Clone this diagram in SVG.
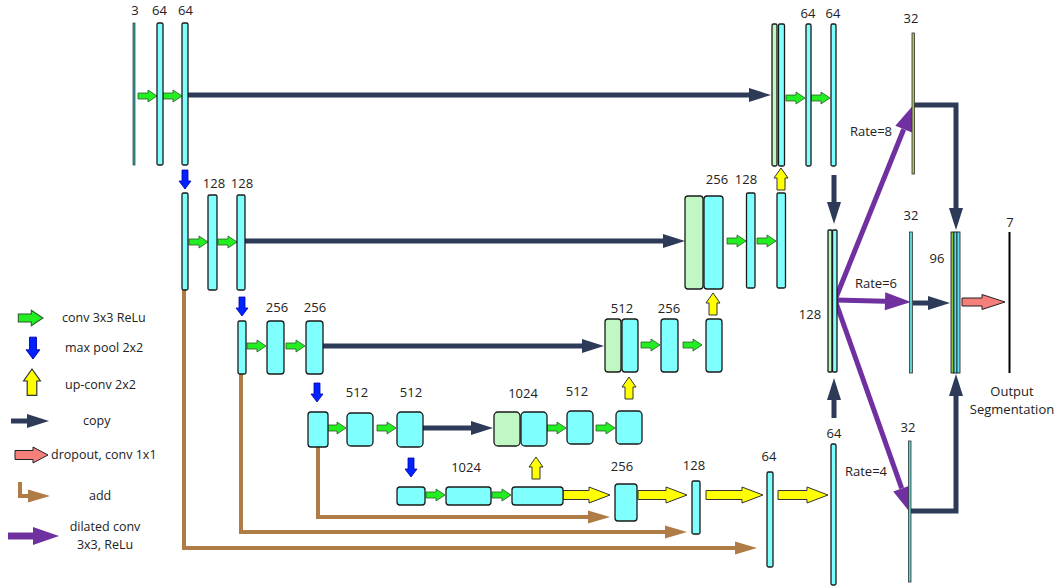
<svg xmlns="http://www.w3.org/2000/svg" width="1057" height="588" viewBox="0 0 1057 588">
<style>
.b{fill:#80ffff;stroke:#1a1a1a;stroke-width:1.3}
.g{fill:#c0f7c3;stroke:#1a1a1a;stroke-width:1.3}
.t{font-family:'Open Sans','Liberation Sans',sans-serif;font-size:13px;fill:#222;text-anchor:middle}
.l{font-family:'Open Sans','Liberation Sans',sans-serif;font-size:12.5px;fill:#222}
.nv{fill:none;stroke:#2d3a58;stroke-width:5}
.pu{fill:none;stroke:#7030a0;stroke-width:5}
.br{fill:none;stroke:#b07c46;stroke-width:4}
.ya{fill:#ffff00;stroke:#333;stroke-width:1}
.pk{fill:#f47f7b;stroke:#222;stroke-width:1}
</style>
<defs>
<path id="ga" d="M-19,-3 L-9,-3 L-9,-6 L0,0 L-9,6 L-9,3 L-19,3 Z" fill="#22ee22" stroke="#2a5a2a" stroke-width="0.8"/>
<path id="da" d="M-3,-19 L3,-19 L3,-8 L6,-8 L0,0 L-6,-8 L-3,-8 Z" fill="#0022ff" stroke="#0000aa" stroke-width="0.8"/>
<path id="ua" d="M0,0 L7,10 L4,10 L4,22 L-4,22 L-4,10 L-7,10 Z" class="ya"/>
<marker id="mn" markerUnits="userSpaceOnUse" markerWidth="22" markerHeight="14" refX="0" refY="7" orient="auto" overflow="visible"><path d="M0,0 L22,7 L0,14 Z" fill="#2d3a58"/></marker>
<marker id="mp" markerUnits="userSpaceOnUse" markerWidth="26" markerHeight="18" refX="0" refY="9" orient="auto" overflow="visible"><path d="M0,0 L26,9 L0,18 Z" fill="#7030a0"/></marker>
<marker id="mb" markerUnits="userSpaceOnUse" markerWidth="22" markerHeight="13" refX="0" refY="6.5" orient="auto" overflow="visible"><path d="M0,0 L22,6.5 L0,13 Z" fill="#b07c46"/></marker>
</defs>
<rect width="1057" height="588" fill="#ffffff"/>

<g id="connectors">
<path class="nv" d="M188,95 H749" marker-end="url(#mn)"/>
<path class="nv" d="M245,241 H663" marker-end="url(#mn)"/>
<path class="nv" d="M323,346 H582" marker-end="url(#mn)"/>
<path class="nv" d="M423,428 H471" marker-end="url(#mn)"/>
<path class="nv" d="M834,175 V202" marker-end="url(#mn)"/>
<path class="nv" d="M834,418 V400" marker-end="url(#mn)"/>
<path class="nv" d="M913,105 H956 V208" marker-end="url(#mn)"/>
<path class="nv" d="M910,511 H956 V396" marker-end="url(#mn)"/>
<path class="nv" d="M913,303 H928" marker-end="url(#mn)"/>
<path class="pu" d="M835,300 L903.7,129.2" marker-end="url(#mp)"/>
<path class="pu" d="M835,300 L885,301.3" marker-end="url(#mp)"/>
<path class="pu" d="M835,300 L901.7,488.4" marker-end="url(#mp)"/>
<path class="br" d="M184,290 V548 H735" marker-end="url(#mb)"/>
<path class="br" d="M241,374 V532 H665" marker-end="url(#mb)"/>
<path class="br" d="M318,447 V517 H588" marker-end="url(#mb)"/>
<use href="#ga" x="157" y="96"/><use href="#ga" x="182" y="96"/>
<use href="#ga" x="805" y="98"/><use href="#ga" x="830" y="98"/>
<use href="#ga" x="208" y="242"/><use href="#ga" x="237" y="242"/>
<use href="#ga" x="746" y="241"/><use href="#ga" x="776" y="241"/>
<use href="#ga" x="266" y="346"/><use href="#ga" x="305" y="346"/>
<use href="#ga" x="660" y="345"/><use href="#ga" x="702" y="345"/>
<use href="#ga" x="346" y="428"/><use href="#ga" x="396" y="428"/>
<use href="#ga" x="566" y="428"/><use href="#ga" x="615" y="428"/>
<use href="#ga" x="445" y="495"/><use href="#ga" x="511" y="495"/>
<use href="#da" x="185" y="189"/><use href="#da" x="242" y="316"/>
<use href="#da" x="317" y="402"/><use href="#da" x="411" y="477"/>
<use href="#ua" x="781" y="168"/><use href="#ua" x="713" y="293"/>
<use href="#ua" x="629" y="377"/><use href="#ua" x="536" y="457"/>
<path class="ya" d="M563,490.5 H589 V487 L610,495 L589,503 V499.5 H563 Z"/>
<path class="ya" d="M638,490.5 H666 V487 L687,495 L666,503 V499.5 H638 Z"/>
<path class="ya" d="M706,490.5 H742 V487 L763,495 L742,503 V499.5 H706 Z"/>
<path class="ya" d="M778,490.5 H807 V487 L828,495 L807,503 V499.5 H778 Z"/>
<path class="pk" d="M962,298 H982 V294.5 L1005,302 L982,309.5 V306 H962 Z"/>
</g>

<g id="enc1">
<rect x="133" y="23" width="2" height="142" fill="#3aa6a6" stroke="#1a3a3a" stroke-width="0.7"/>
<rect class="b" x="157" y="23" width="6" height="142" rx="1.5"/>
<rect class="b" x="182" y="23" width="6" height="142" rx="1.5"/>
<text class="t" x="135" y="15">3</text><text class="t" x="159.5" y="15">64</text><text class="t" x="185.5" y="15">64</text>
</g>
<g id="enc2">
<rect class="b" x="182" y="193" width="6" height="97" rx="1.5"/>
<rect class="b" x="208" y="195" width="9" height="95" rx="1.5"/>
<rect class="b" x="237" y="195" width="8" height="95" rx="1.5"/>
<text class="t" x="214" y="188">128</text><text class="t" x="242" y="188">128</text>
</g>
<g id="enc3">
<rect class="b" x="238" y="321" width="8" height="53" rx="1.5"/>
<rect class="b" x="267" y="321" width="17" height="53" rx="3"/>
<rect class="b" x="306" y="321" width="17" height="53" rx="3"/>
<text class="t" x="277" y="312">256</text><text class="t" x="315" y="312">256</text>
</g>
<g id="enc4">
<rect class="b" x="308" y="412" width="20" height="35" rx="3"/>
<rect class="b" x="347" y="413" width="26" height="33" rx="4"/>
<rect class="b" x="397" y="412" width="26" height="35" rx="4"/>
<text class="t" x="357" y="397">512</text><text class="t" x="411" y="397">512</text>
</g>
<g id="bottleneck">
<rect class="b" x="397" y="487" width="28" height="18" rx="3"/>
<rect class="b" x="446" y="487" width="45" height="18" rx="3"/>
<rect class="b" x="512" y="487" width="51" height="18" rx="3"/>
<text class="t" x="466" y="472">1024</text>
</g>
<g id="dec4">
<rect class="g" x="494" y="412" width="26" height="34" rx="4"/>
<rect class="b" x="521" y="412" width="26" height="34" rx="4"/>
<rect class="b" x="567" y="411" width="26" height="33" rx="4"/>
<rect class="b" x="616" y="411" width="26" height="33" rx="4"/>
<text class="t" x="523" y="398">1024</text><text class="t" x="577" y="396">512</text>
</g>
<g id="dec3">
<rect class="g" x="605" y="319" width="16" height="53" rx="3"/>
<rect class="b" x="622" y="319" width="16" height="53" rx="3"/>
<rect class="b" x="661" y="319" width="17" height="53" rx="3"/>
<rect class="b" x="706" y="319" width="16" height="53" rx="3"/>
<text class="t" x="622" y="313">512</text><text class="t" x="669" y="313">256</text>
</g>
<g id="dec2">
<rect class="g" x="685" y="196" width="18" height="93" rx="3"/>
<rect class="b" x="704" y="196" width="19" height="93" rx="3"/>
<rect class="b" x="746.5" y="193" width="8.5" height="95" rx="1.5"/>
<rect class="b" x="777" y="193" width="8.5" height="95" rx="1.5"/>
<text class="t" x="717" y="184">256</text><text class="t" x="746" y="184">128</text>
</g>
<g id="dec1">
<rect class="g" x="772" y="24" width="5" height="142" rx="1.5"/>
<rect class="b" x="778.5" y="24" width="6" height="142" rx="1.5"/>
<rect class="b" x="806" y="24" width="5" height="142" rx="1.5"/>
<rect class="b" x="831" y="24" width="5" height="142" rx="1.5"/>
<text class="t" x="808" y="18">64</text><text class="t" x="833" y="18">64</text>
</g>
<g id="up_path">
<rect class="b" x="615" y="484" width="22" height="37" rx="3"/>
<rect class="b" x="692" y="481" width="8" height="53" rx="1.5"/>
<rect class="b" x="767" y="472" width="6" height="95" rx="1.5"/>
<rect class="b" x="831" y="444" width="5" height="141" rx="1.5"/>
<text class="t" x="622" y="471">256</text><text class="t" x="694" y="470">128</text>
<text class="t" x="769" y="461">64</text><text class="t" x="834" y="438">64</text>
</g>
<g id="concat128">
<rect class="g" x="828" y="230" width="4" height="142" rx="1"/>
<rect class="b" x="832.5" y="230" width="4.5" height="142" rx="1"/>
<text class="t" x="810" y="319">128</text>
</g>
<g id="rate8">
<rect x="912" y="33" width="2.5" height="141" fill="#a8c060" stroke="#333" stroke-width="0.8"/>
<text class="t" x="911" y="23">32</text>
<text class="t" x="871" y="136">Rate=8</text>
</g>
<g id="rate6">
<rect x="909.5" y="232" width="3" height="141" fill="#60d0d0" stroke="#333" stroke-width="0.8"/>
<text class="t" x="911" y="220">32</text>
<text class="t" x="876" y="288">Rate=6</text>
</g>
<g id="rate4">
<rect x="908.5" y="441" width="2.5" height="141" fill="#60d0d0" stroke="#333" stroke-width="0.8"/>
<text class="t" x="908" y="432">32</text>
<text class="t" x="866" y="476">Rate=4</text>
</g>
<g id="concat96">
<rect x="951" y="232" width="3" height="141" fill="#88c040" stroke="#111" stroke-width="0.8"/>
<rect x="954" y="232" width="3" height="141" fill="#60e0f0" stroke="#111" stroke-width="0.8"/>
<rect x="957" y="232" width="3" height="141" fill="#60e0f0" stroke="#111" stroke-width="0.8"/>
<text class="t" x="937" y="263">96</text>
</g>
<g id="output">
<line x1="1009.5" y1="232" x2="1009.5" y2="373" stroke="#000" stroke-width="2"/>
<text class="t" x="1010" y="227">7</text>
<text class="t" x="1012" y="396">Output</text>
<text class="t" x="1012" y="414">Segmentation</text>
</g>

<g id="legend">
<use href="#ga" transform="translate(43,318) scale(1.3)"/>
<text class="l" x="62" y="322">conv 3x3 ReLu</text>
<use href="#da" transform="translate(33,359) scale(1.15)"/>
<text class="l" x="65" y="352">max pool 2x2</text>
<use href="#ua" transform="translate(32,369) scale(1.2)"/>
<text class="l" x="65" y="389">up-conv 2x2</text>
<path class="nv" d="M11,421 H27" marker-end="url(#mn)"/>
<text class="l" x="83" y="425">copy</text>
<path class="pk" d="M15,450.5 H33 V447 L48,455 L33,463 V459.5 H15 Z"/>
<text class="l" x="51" y="459">dropout, conv 1x1</text>
<path class="br" d="M20,482 V496 H28" marker-end="url(#mb)"/>
<text class="l" x="89" y="500">add</text>
<path d="M8,536 H33" fill="none" stroke="#7030a0" stroke-width="7" marker-end="url(#mp)"/>
<text class="t" x="105" y="531" style="font-size:12.5px">dilated conv</text>
<text class="t" x="105" y="549" style="font-size:12.5px">3x3, ReLu</text>
</g>
</svg>
